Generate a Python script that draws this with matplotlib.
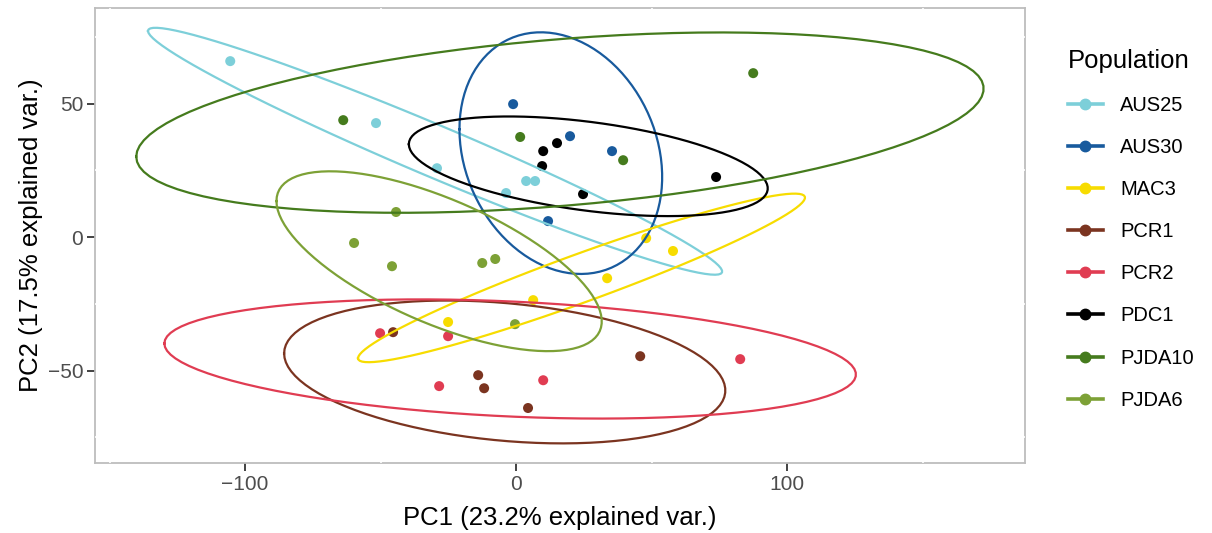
import numpy as np
import matplotlib
matplotlib.use("Agg")
import matplotlib.pyplot as plt
from matplotlib.lines import Line2D

plt.rcParams['font.family'] = ['Liberation Sans', 'DejaVu Sans']

# populations and colours
groups = ['AUS25', 'AUS30', 'MAC3', 'PCR1', 'PCR2', 'PDC1', 'PJDA10', 'PJDA6']
colors = ['#7DCFD9', '#185A9D', '#F7DC00', '#7B3420', '#E03C52', '#000000', '#457B1D', '#7DA136']

# PC scores
pc1_aus25 = [-105.5, -51.7, -29.2, -3.7, 3.7, 7.0]
pc2_aus25 = [65.9, 42.7, 25.8, 16.5, 21.0, 21.0]
pc1_aus30 = [-1.1, 19.9, 35.4, 11.8]
pc2_aus30 = [49.8, 37.8, 32.2, 6.0]
pc1_mac3 = [48.0, 57.9, 33.6, 6.3, -25.1]
pc2_mac3 = [-0.4, -5.2, -15.4, -23.6, -31.8]
pc1_pcr1 = [-45.4, 45.8, -14.0, -11.8, 4.4]
pc2_pcr1 = [-35.6, -44.6, -51.7, -56.6, -64.0]
pc1_pcr2 = [-50.2, -25.1, -28.4, 10.0, 82.7]
pc2_pcr2 = [-36.0, -37.1, -55.8, -53.6, -45.7]
pc1_pdc1 = [10.0, 15.1, 9.6, 24.7, 73.8]
pc2_pdc1 = [32.2, 35.2, 26.6, 16.1, 22.5]
pc1_pjda10 = [-63.8, 1.5, 39.5, 87.5]
pc2_pjda10 = [43.8, 37.5, 28.8, 61.4]
pc1_pjda6 = [-44.3, -59.8, -45.8, -12.5, -7.7, -0.4]
pc2_pjda6 = [9.4, -2.2, -10.9, -9.7, -8.2, -32.6]

pc1 = [pc1_aus25, pc1_aus30, pc1_mac3, pc1_pcr1, pc1_pcr2, pc1_pdc1, pc1_pjda10, pc1_pjda6]
pc2 = [pc2_aus25, pc2_aus30, pc2_mac3, pc2_pcr1, pc2_pcr2, pc2_pdc1, pc2_pjda10, pc2_pjda6]

ellipse_prob = 0.95


def ellipse_path(x, y, prob, n=100):
    # normal data ellipse, like ggbiplot
    xy = np.column_stack([x, y])
    mu = xy.mean(axis=0)
    sigma = np.cov(xy, rowvar=False)
    r = np.sqrt(-2 * np.log(1 - prob))
    theta = np.linspace(-np.pi, np.pi, n)
    circle = np.column_stack([np.cos(theta), np.sin(theta)])
    ed = mu + r * circle @ np.linalg.cholesky(sigma).T
    return ed[:, 0], ed[:, 1]


fig = plt.figure(figsize=(12.12, 5.33), dpi=100)
ax = fig.add_axes([0.0784, 0.1313, 0.7673, 0.8537])

# white minor grid (only shows where it crosses the grey border)
for v in [-150, -50, 50, 150]:
    ax.axvline(v, color='white', lw=1.2, zorder=2.6)
for v in [-75, -25, 25, 75]:
    ax.axhline(v, color='white', lw=1.2, zorder=2.6)

for g, c, x, y in zip(groups, colors, pc1, pc2):
    ax.scatter(x, y, s=52, color=c, edgecolors='none', zorder=2.8)

for g, c, x, y in zip(groups, colors, pc1, pc2):
    ex, ey = ellipse_path(x, y, ellipse_prob)
    ax.plot(ex, ey, color=c, lw=1.6, zorder=3)

ax.set_xlim(-155.4, 187.8)
ax.set_ylim(-84.6, 85.8)
ax.set_xticks([-100, 0, 100])
ax.set_yticks([-50, 0, 50])
ax.set_xticklabels(['\u2212100', '0', '100'])
ax.set_yticklabels(['\u221250', '0', '50'])
ax.tick_params(colors='#333333', labelcolor='#4D4D4D', labelsize=15, length=5.5, width=1.3, pad=3)

for s in ax.spines.values():
    s.set_color('#BDBDBD')
    s.set_linewidth(1.3)

ax.set_xlabel('PC1 (23.2% explained var.)', fontsize=18.5, labelpad=9)
ax.set_ylabel('PC2 (17.5% explained var.)', fontsize=18.5, labelpad=3)

handles = [Line2D([0], [0], color=c, lw=2.6, marker='o', markersize=7.5) for c in colors]
leg = fig.legend(handles, groups, loc='upper left', bbox_to_anchor=(0.866, 0.943),
                 frameon=False, title='Population', fontsize=14.5, title_fontsize=18.5,
                 handlelength=1.75, handletextpad=0.85, labelspacing=1.15)
leg._legend_box.align = 'left'

fig.savefig('out.png', dpi=100)
